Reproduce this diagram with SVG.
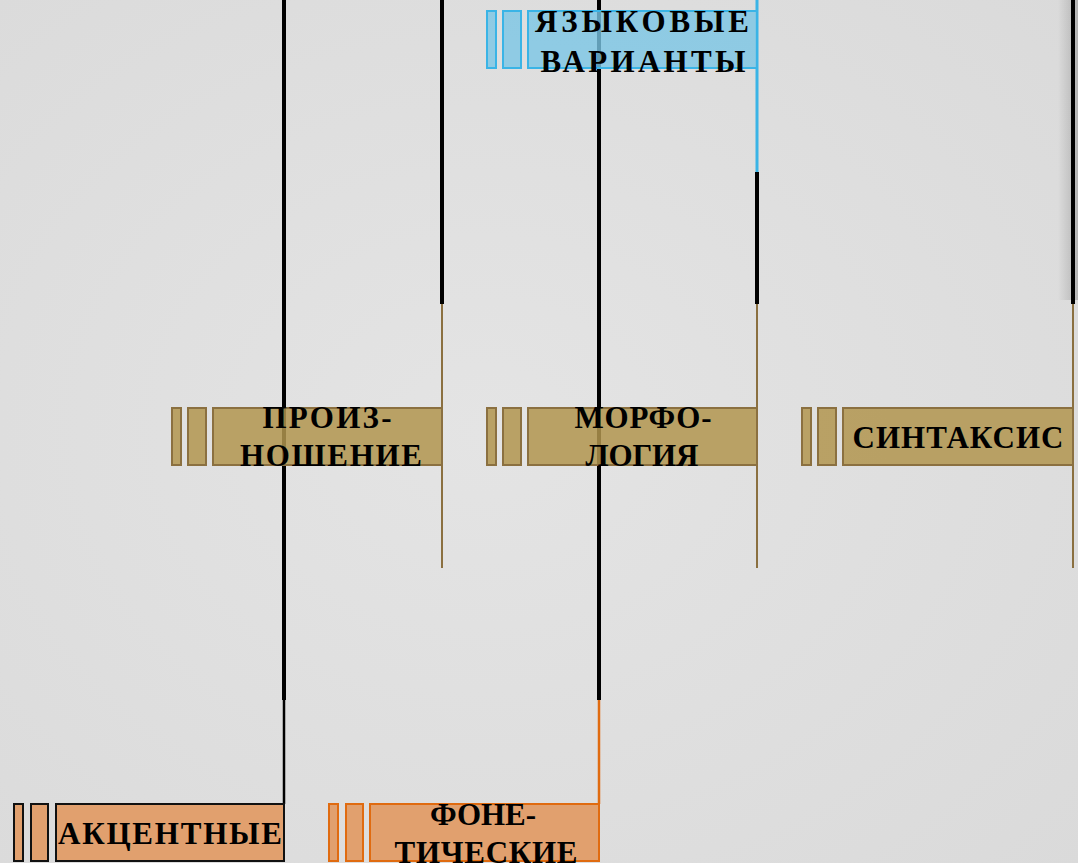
<svg xmlns="http://www.w3.org/2000/svg" width="1078" height="863" viewBox="0 0 1078 863">
<defs>
<linearGradient id="edge" x1="0" y1="0" x2="1" y2="0">
<stop offset="0" stop-color="#000" stop-opacity="0"/>
<stop offset="1" stop-color="#000" stop-opacity="0.18"/>
</linearGradient>
<radialGradient id="bgg" cx="0.45" cy="0.5" r="0.75">
<stop offset="0" stop-color="#e4e4e4"/>
<stop offset="1" stop-color="#dadada"/>
</radialGradient>
</defs>
<style>
.lbl{font-family:"Liberation Serif","DejaVu Serif",serif;font-weight:bold;font-size:31px;fill:#000;text-anchor:middle}
.brown rect{fill:#b2954f;fill-opacity:0.85;stroke:#8b7040;stroke-width:2}
.blue rect{fill:#7bc6e5;fill-opacity:0.8;stroke:#3ab4e6;stroke-width:2}
.orange rect{fill:#e2955a;fill-opacity:0.85;stroke:#e06b10;stroke-width:2}
.orangeblk rect{fill:#e2955a;fill-opacity:0.85;stroke:#111;stroke-width:2}
.thick{stroke:#000;stroke-width:4;fill:none}
.thinb{stroke:#000;stroke-width:2.5;fill:none}
.br{stroke:#8b7040;stroke-width:2;fill:none}
.bl{stroke:#3ab4e6;stroke-width:3;fill:none}
.or{stroke:#e06b10;stroke-width:2.5;fill:none}
</style>
<rect x="0" y="0" width="1078" height="863" fill="url(#bgg)"/>
<rect x="1058" y="0" width="20" height="300" fill="url(#edge)"/>
<g id="connectors">
<line class="thick" x1="284" y1="0" x2="284" y2="700"/>
<line class="thinb" x1="284" y1="700" x2="284" y2="804"/>
<line class="thick" x1="442" y1="0" x2="442" y2="304"/>
<line class="br" x1="442" y1="304" x2="442" y2="568"/>
<line class="thick" x1="599" y1="0" x2="599" y2="700"/>
<line class="or" x1="599" y1="700" x2="599" y2="804"/>
<line class="bl" x1="757" y1="0" x2="757" y2="172"/>
<line class="thick" x1="757" y1="172" x2="757" y2="304"/>
<line class="br" x1="757" y1="304" x2="757" y2="568"/>
<line class="thick" x1="1073" y1="0" x2="1073" y2="304"/>
<line class="br" x1="1073" y1="304" x2="1073" y2="568"/>
</g>
<g id="node-variants" class="blue">
<rect x="487" y="11" width="9" height="57"/>
<rect x="503" y="11" width="18" height="57"/>
<rect x="528" y="11" width="229" height="57"/>
<text class="lbl" x="642" y="32" textLength="214" lengthAdjust="spacing">ЯЗЫКОВЫЕ</text>
<text class="lbl" x="643" y="72" textLength="205" lengthAdjust="spacing">ВАРИАНТЫ</text>
</g>
<g id="node-pronunciation" class="brown">
<rect x="172" y="408" width="9" height="57"/>
<rect x="188" y="408" width="18" height="57"/>
<rect x="213" y="408" width="229" height="57"/>
<text class="lbl" x="327" y="428" textLength="129" lengthAdjust="spacing">ПРОИЗ-</text>
<text class="lbl" x="331" y="466" textLength="182" lengthAdjust="spacing">НОШЕНИЕ</text>
</g>
<g id="node-morphology" class="brown">
<rect x="487" y="408" width="9" height="57"/>
<rect x="503" y="408" width="18" height="57"/>
<rect x="528" y="408" width="229" height="57"/>
<text class="lbl" x="643" y="428" textLength="137" lengthAdjust="spacing">МОРФО-</text>
<text class="lbl" x="642" y="466" textLength="113" lengthAdjust="spacing">ЛОГИЯ</text>
</g>
<g id="node-syntax" class="brown">
<rect x="802" y="408" width="9" height="57"/>
<rect x="818" y="408" width="18" height="57"/>
<rect x="843" y="408" width="230" height="57"/>
<text class="lbl" x="958" y="448" textLength="211" lengthAdjust="spacing">СИНТАКСИС</text>
</g>
<g id="node-accent" class="orangeblk">
<rect x="14" y="804" width="9" height="57"/>
<rect x="31" y="804" width="17" height="57"/>
<rect x="56" y="804" width="228" height="57"/>
<text class="lbl" x="170" y="844" textLength="224" lengthAdjust="spacing">АКЦЕНТНЫЕ</text>
</g>
<g id="node-phonetic" class="orange">
<rect x="329" y="804" width="9" height="57"/>
<rect x="346" y="804" width="17" height="57"/>
<rect x="370" y="804" width="229" height="57"/>
<text class="lbl" x="483" y="825">ФОНЕ-</text>
<text class="lbl" x="486" y="863" textLength="183" lengthAdjust="spacing">ТИЧЕСКИЕ</text>
</g>
</svg>
